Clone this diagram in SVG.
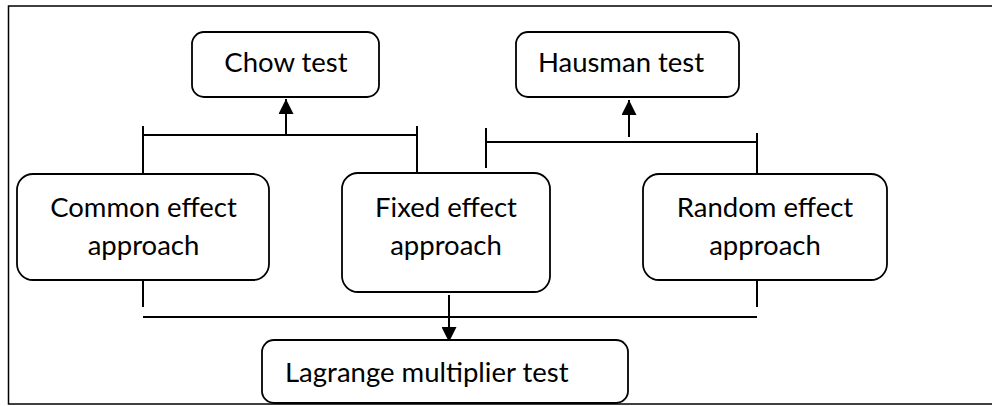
<svg xmlns="http://www.w3.org/2000/svg" width="992" height="406" viewBox="0 0 992 406">
<style>
.box{fill:#fff;stroke:#000;stroke-width:1.8}
.t{font-family:Lato,"Open Sans","Liberation Sans",sans-serif;font-size:27.5px;fill:#000}
.c{text-anchor:middle}
.ln{stroke:#000;stroke-width:2;fill:none}
</style>
<defs>
<marker id="ah" viewBox="0 0 10 10" refX="10" refY="5" markerWidth="15" markerHeight="15" markerUnits="userSpaceOnUse" orient="auto">
<path d="M0,0 L10,5 L0,10 Z" fill="#000"/>
</marker>
</defs>
<rect x="8.5" y="6" width="990" height="398" fill="#fff" stroke="#000" stroke-width="1.5"/>
<g id="connectors">
<path class="ln" d="M143,126 V173 M417,126 V173 M143,135 H417"/>
<path class="ln" d="M286,135 V99" marker-end="url(#ah)"/>
<path class="ln" d="M486,128 V168 M757,133 V173 M486,142 H757"/>
<path class="ln" d="M629,137 V100" marker-end="url(#ah)"/>
<path class="ln" d="M143,273 V307 M757,273 V307 M143,317 H757"/>
<path class="ln" d="M449,295 V342" marker-end="url(#ah)"/>
</g>
<g id="chow">
<rect class="box" x="192" y="32" width="187" height="65" rx="12"/>
<text class="t c" x="286" y="72">Chow test</text>
</g>
<g id="hausman">
<rect class="box" x="516" y="32" width="223" height="65" rx="12"/>
<text class="t c" x="621" y="72">Hausman test</text>
</g>
<g id="common">
<rect class="box" x="17" y="174" width="252" height="106" rx="16"/>
<text class="t c" x="143.5" y="217">Common effect</text>
<text class="t c" x="143.5" y="255">approach</text>
</g>
<g id="fixed">
<rect class="box" x="342" y="173" width="208" height="119" rx="16"/>
<text class="t c" x="446" y="217">Fixed effect</text>
<text class="t c" x="446" y="255">approach</text>
</g>
<g id="random">
<rect class="box" x="643" y="174" width="244" height="106" rx="16"/>
<text class="t c" x="765" y="217">Random effect</text>
<text class="t c" x="765" y="255">approach</text>
</g>
<g id="lagrange">
<rect class="box" x="262" y="340" width="366" height="63" rx="12"/>
<text class="t" x="285" y="382">Lagrange multiplier test</text>
</g>
</svg>
